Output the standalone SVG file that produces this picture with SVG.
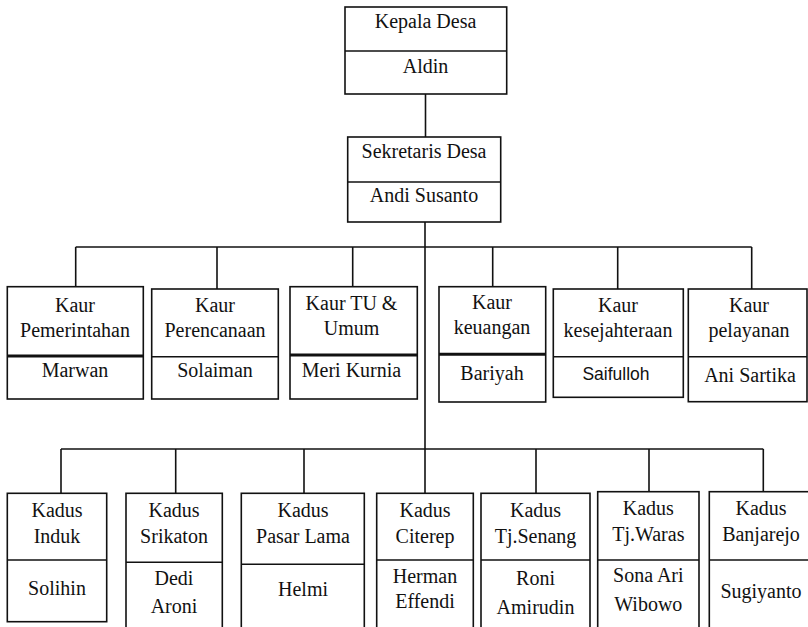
<svg xmlns="http://www.w3.org/2000/svg" width="808" height="627" viewBox="0 0 808 627">
<style>
.bg{fill:#fff}
.box{fill:#fff;stroke:#111;stroke-width:1.6}
.div{stroke:#111;stroke-width:1.6}
.div2{stroke:#111;stroke-width:3}
.ln{stroke:#111;stroke-width:1.6;fill:none}
.t{font-family:"Liberation Serif","Times New Roman",serif;font-size:20px;text-anchor:middle;fill:#111}
.s{font-family:"Liberation Sans",Arial,sans-serif;font-size:17.5px;text-anchor:middle;fill:#111}
</style>
<rect class="bg" x="0" y="0" width="808" height="627"/>
<g id="connectors">
<path class="ln" d="M425.5,94 V137"/>
<path class="ln" d="M425,222 V493"/>
<path class="ln" d="M75.7,247 H751.7"/>
<path class="ln" d="M75.7,247 V286.7 M217,247 V289 M352.7,247 V286.7 M492.7,247 V286.7 M617.7,247 V289 M751.7,247 V289"/>
<path class="ln" d="M61,449 H763.3"/>
<path class="ln" d="M61,449 V493.3 M175.7,449 V493.3 M304,449 V493.3 M536,449 V493.3 M649,449 V491.7 M763.3,449 V491.7"/>
</g>
<g id="kepala-desa">
<rect class="box" x="345" y="7" width="161.7" height="87"/>
<line class="div" x1="345" y1="51" x2="506.7" y2="51"/>
<text class="t" x="425.5" y="28">Kepala Desa</text>
<text class="t" x="425.5" y="73">Aldin</text>
</g>
<g id="sekretaris-desa">
<rect class="box" x="347.7" y="137" width="153" height="85"/>
<line class="div" x1="347.7" y1="182" x2="500.7" y2="182"/>
<text class="t" x="424" y="158">Sekretaris Desa</text>
<text class="t" x="424" y="202">Andi Susanto</text>
</g>
<g id="kaur-pemerintahan">
<rect class="box" x="7.3" y="286.7" width="136" height="112.3"/>
<line class="div2" x1="7.3" y1="356" x2="143.3" y2="356"/>
<text class="t" x="75" y="311.5">Kaur</text>
<text class="t" x="75" y="336.5">Pemerintahan</text>
<text class="t" x="75" y="377">Marwan</text>
</g>
<g id="kaur-perencanaan">
<rect class="box" x="151.7" y="289" width="126.6" height="110"/>
<line class="div" x1="151.7" y1="356.7" x2="278.3" y2="356.7"/>
<text class="t" x="215" y="311.5">Kaur</text>
<text class="t" x="215" y="336.5">Perencanaan</text>
<text class="t" x="215" y="377">Solaiman</text>
</g>
<g id="kaur-tu-umum">
<rect class="box" x="290" y="286.7" width="127.3" height="112.3"/>
<line class="div2" x1="290" y1="355" x2="417.3" y2="355"/>
<text class="t" x="351.5" y="310">Kaur TU &amp;</text>
<text class="t" x="351.5" y="335">Umum</text>
<text class="t" x="351.5" y="377">Meri Kurnia</text>
</g>
<g id="kaur-keuangan">
<rect class="box" x="439" y="286.7" width="106.7" height="115.3"/>
<line class="div2" x1="439" y1="354.3" x2="545.7" y2="354.3"/>
<text class="t" x="492" y="308.5">Kaur</text>
<text class="t" x="492" y="334">keuangan</text>
<text class="t" x="492" y="380">Bariyah</text>
</g>
<g id="kaur-kesejahteraan">
<rect class="box" x="553.3" y="289" width="130" height="108.3"/>
<line class="div" x1="553.3" y1="356.7" x2="683.3" y2="356.7"/>
<text class="t" x="618" y="311.5">Kaur</text>
<text class="t" x="618" y="336.5">kesejahteraan</text>
<text class="s" x="616" y="380">Saifulloh</text>
</g>
<g id="kaur-pelayanan">
<rect class="box" x="688.3" y="289" width="118.7" height="112.7"/>
<line class="div" x1="688.3" y1="356.7" x2="807" y2="356.7"/>
<text class="t" x="749" y="311.5">Kaur</text>
<text class="t" x="749" y="336.5">pelayanan</text>
<text class="t" x="750" y="381.5">Ani Sartika</text>
</g>
<g id="kadus-induk">
<rect class="box" x="7.3" y="493.3" width="99.4" height="128.4"/>
<line class="div" x1="7.3" y1="560" x2="106.7" y2="560"/>
<text class="t" x="57" y="516.7">Kadus</text>
<text class="t" x="57" y="542.7">Induk</text>
<text class="t" x="57" y="595">Solihin</text>
</g>
<g id="kadus-srikaton">
<rect class="box" x="126" y="493.3" width="96.3" height="150"/>
<line class="div" x1="126" y1="562.3" x2="222.3" y2="562.3"/>
<text class="t" x="174" y="516.7">Kadus</text>
<text class="t" x="174" y="542.7">Srikaton</text>
<text class="t" x="174" y="585">Dedi</text>
<text class="t" x="174" y="612.7">Aroni</text>
</g>
<g id="kadus-pasar-lama">
<rect class="box" x="241.3" y="493.3" width="123" height="150"/>
<line class="div" x1="241.3" y1="564.3" x2="364.3" y2="564.3"/>
<text class="t" x="303" y="516.7">Kadus</text>
<text class="t" x="303" y="542.7">Pasar Lama</text>
<text class="t" x="303" y="595.5">Helmi</text>
</g>
<g id="kadus-citerep">
<rect class="box" x="376.7" y="493.3" width="96.6" height="150"/>
<line class="div" x1="376.7" y1="560" x2="473.3" y2="560"/>
<text class="t" x="425" y="516.7">Kadus</text>
<text class="t" x="425" y="543">Citerep</text>
<text class="t" x="425" y="583.3">Herman</text>
<text class="t" x="425" y="608.3">Effendi</text>
</g>
<g id="kadus-tj-senang">
<rect class="box" x="481" y="493.3" width="109" height="150"/>
<line class="div" x1="481" y1="560" x2="590" y2="560"/>
<text class="t" x="535.5" y="516.7">Kadus</text>
<text class="t" x="535.5" y="542.7">Tj.Senang</text>
<text class="t" x="535.5" y="585">Roni</text>
<text class="t" x="535.5" y="614">Amirudin</text>
</g>
<g id="kadus-tj-waras">
<rect class="box" x="597.7" y="491.7" width="101.3" height="150"/>
<line class="div" x1="597.7" y1="560" x2="699" y2="560"/>
<text class="t" x="648.3" y="515">Kadus</text>
<text class="t" x="648.3" y="540.7">Tj.Waras</text>
<text class="t" x="648.3" y="581.7">Sona Ari</text>
<text class="t" x="648.3" y="611">Wibowo</text>
</g>
<g id="kadus-banjarejo">
<rect class="box" x="709.3" y="491.7" width="104" height="150"/>
<line class="div" x1="709.3" y1="560" x2="813.3" y2="560"/>
<text class="t" x="761" y="515">Kadus</text>
<text class="t" x="761" y="540.7">Banjarejo</text>
<text class="t" x="761" y="598">Sugiyanto</text>
</g>
</svg>
